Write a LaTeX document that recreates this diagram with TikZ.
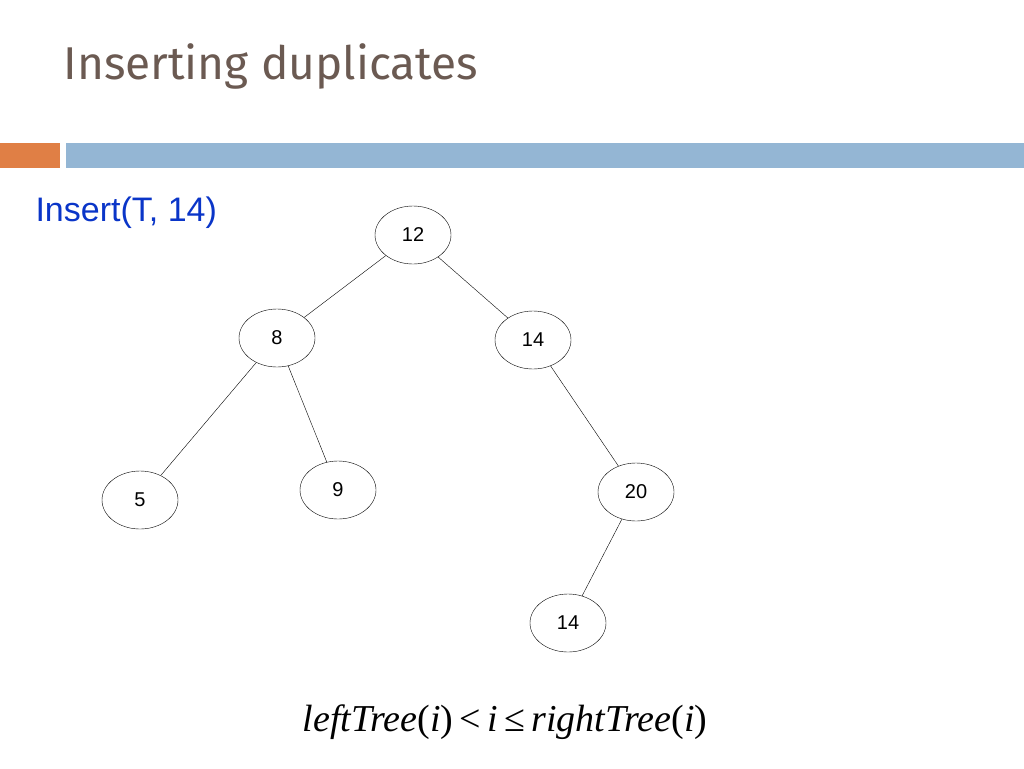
\documentclass[tikz,border=0pt]{standalone}
\usepackage{fontspec}
\setmainfont{Liberation Sans}
\newfontfamily\titlefont{Fira Sans}
\newfontfamily\formfont{Liberation Serif}
\usetikzlibrary{positioning, shapes.geometric}
\definecolor{titlegray}{HTML}{6B5A52}
\definecolor{barorange}{HTML}{E07F45}
\definecolor{barblue}{HTML}{94B6D4}
\definecolor{insblue}{HTML}{0A35C8}
\begin{document}
\begin{tikzpicture}[x=1pt,y=-1pt,
		treenode/.style={
			ellipse,
			draw,
			thin,
			minimum width=76pt,
			minimum height=58pt,
			inner sep=0pt,
			font=\fontsize{20}{24}\selectfont
		},
		treeedge/.style={
			thin
		}]
	\useasboundingbox (0,0) rectangle (1024,768);

	% TITLE AND BARS
	\node[anchor=west, text=titlegray, font=\titlefont\fontsize{46}{50}\selectfont] (title) at (60,66) {Inserting duplicates};
	\fill[barorange] (0,143) rectangle (60,168);
	\fill[barblue] (66,143) rectangle (1024,168);
	\node[anchor=west, text=insblue, font=\fontsize{34}{40}\selectfont] (insert) at (32,213) {Insert(T, 14)};

	% TREE
	\node[treenode] (n12) at (413,235) {12};
	\node[treenode] (n8) at (277,338) {8};
	\node[treenode] (n14) at (533,340) {14};
	\node[treenode] (n5) at (140,500) {5};
	\node[treenode] (n9) at (338,490) {9};
	\node[treenode] (n20) at (636,492) {20};
	\node[treenode] (n14b) at (568,623) {14};

	\draw[treeedge] (n12) -- (n8);
	\draw[treeedge] (n12) -- (n14);
	\draw[treeedge] (n8) -- (n5);
	\draw[treeedge] (n8) -- (n9);
	\draw[treeedge] (n14) -- (n20);
	\draw[treeedge] (n20) -- (n14b);

	% INVARIANT
	\node[font=\formfont\fontsize{38}{44}\selectfont] (rule) at (505,722)
		{\textit{leftTree}(\textit{i})\,<\,\textit{i}\,≤\,\textit{rightTree}(\textit{i})};
\end{tikzpicture}
\end{document}
